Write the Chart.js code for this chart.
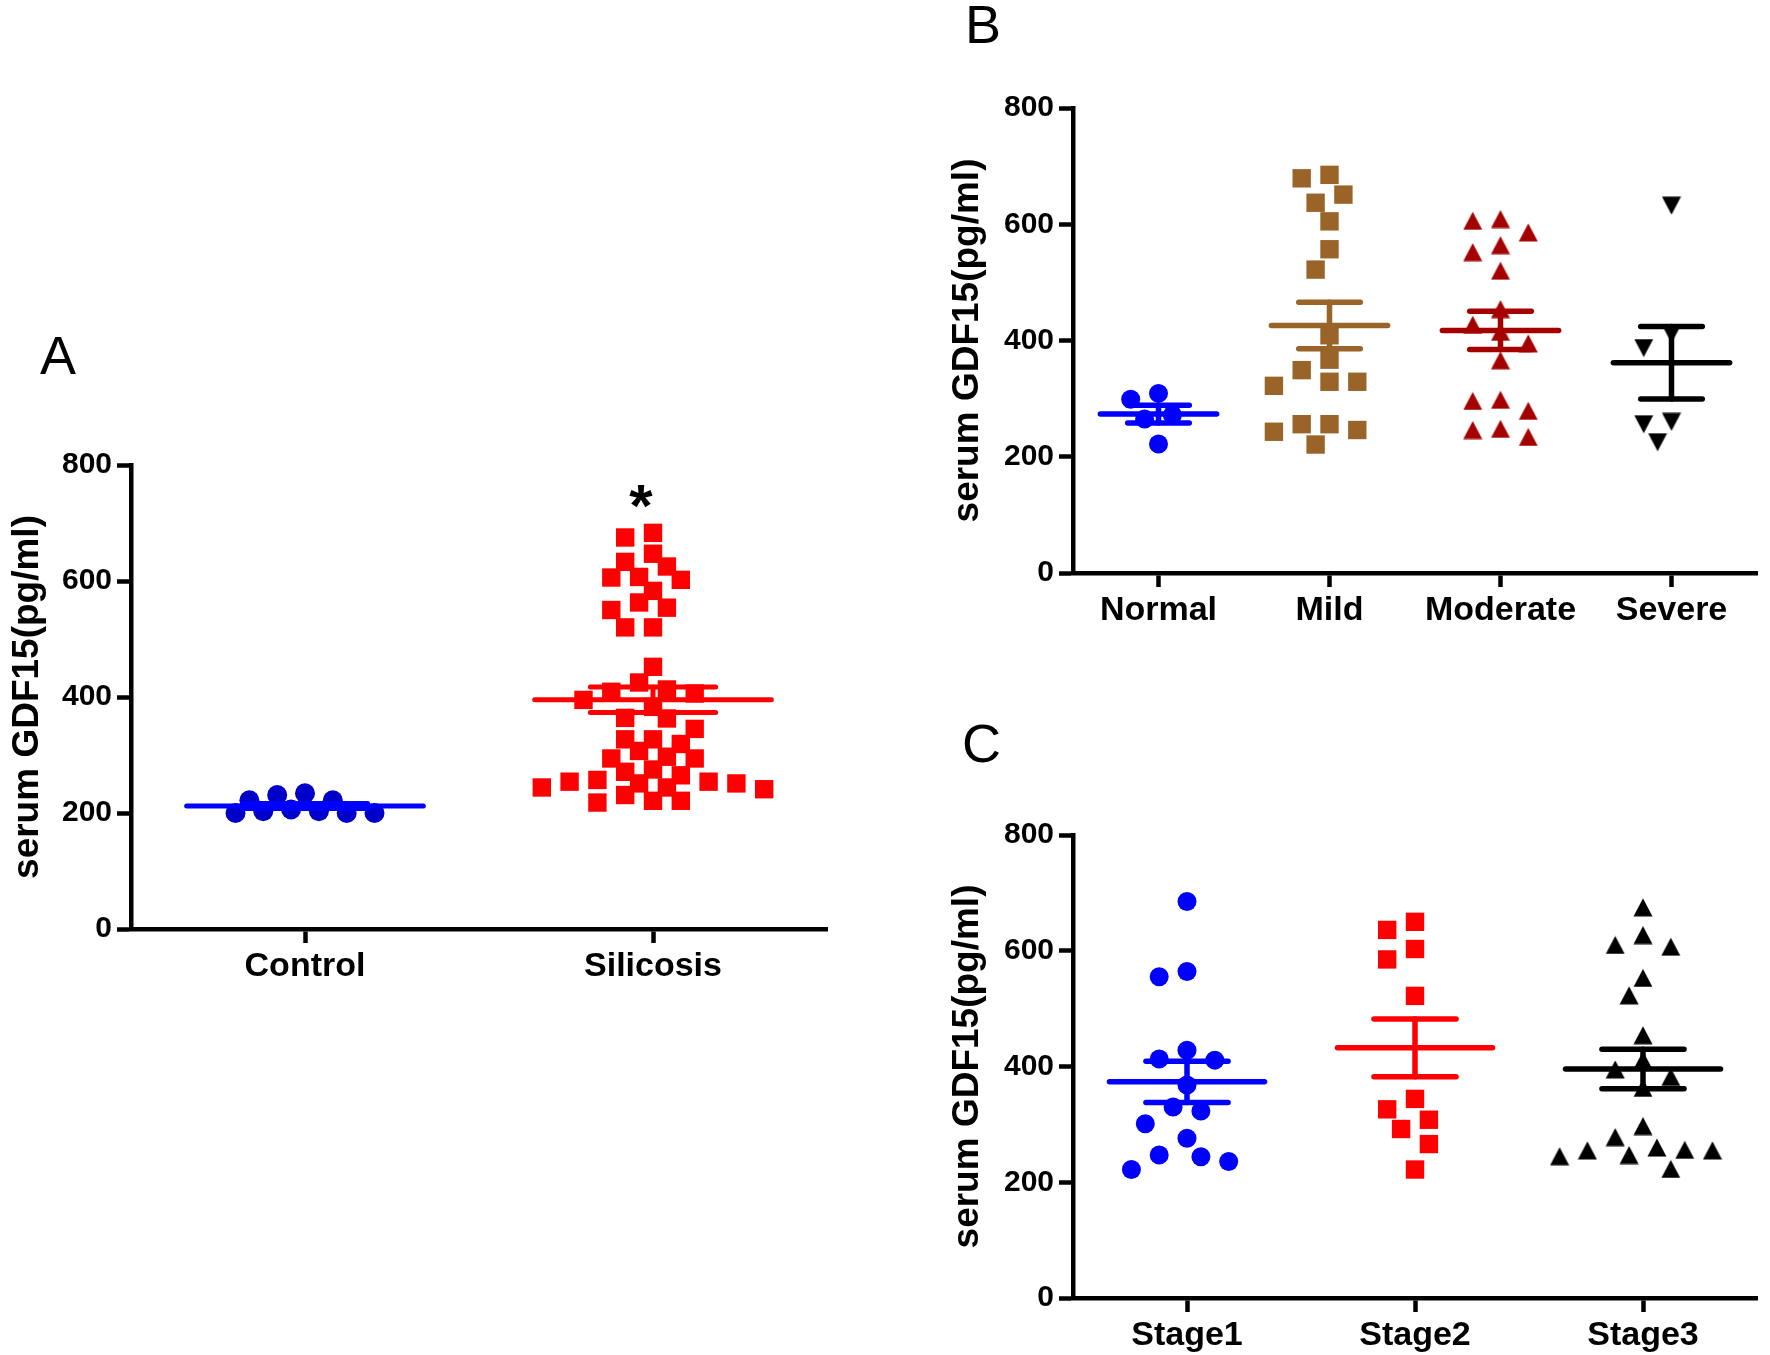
<!DOCTYPE html>
<html>
<head>
<meta charset="utf-8">
<script src="https://cdn.jsdelivr.net/npm/chart.js@4.4.1/dist/chart.umd.min.js"></script>
<style>
  body { margin: 0; background: #fff; width: 1770px; height: 1355px; position: relative; overflow: hidden; }
  canvas { position: absolute; }
  .panel { position: absolute; font-family: "Liberation Sans", Arial, sans-serif; font-size: 54px; line-height: 54px; color: #000; }
</style>
</head>
<body>
<div class="panel" style="left:40px; top:328px;">A</div>
<div class="panel" style="left:965px; top:-3px;">B</div>
<div class="panel" style="left:962px; top:716px;">C</div>
<canvas id="chartA" width="840" height="640" style="left:0px; top:380px;"></canvas>
<canvas id="chartB" width="830" height="660" style="left:940px; top:0px;"></canvas>
<canvas id="chartC" width="830" height="655" style="left:940px; top:700px;"></canvas>
<script>
// Du lieu doc tu hinh (pg/ml)
const Y_TICKS = [0, 200, 400, 600, 800];
const Y_TITLE = "serum GDF15(pg/ml)";

// Panel A
const A_CATS = ["Control", "Silicosis"];
const A_CONTROL = [222, 203, 200, 231, 200, 222, 200, 234, 203, 206];
const A_SILICOSIS = [683, 675, 647, 633, 625, 606, 602, 607, 583, 554, 550, 563, 520, 520, 452,
  425, 409, 413, 395, 383, 406, 364, 363, 345, 327, 327, 319, 307, 294, 294, 297, 265, 275, 271,
  254, 251, 251, 254, 257, 244, 241, 231, 244, 221, 218, 221];

// Panel B
const B_CATS = ["Normal", "Mild", "Moderate", "Severe"];
const B_NORMAL = [299, 309, 272, 265, 222];
const B_MILD = [685, 679, 651, 637, 605, 557, 522, 409, 367, 349, 329, 322, 329, 246, 256, 256, 243, 221];
const B_MODERATE = [606, 609, 586, 564, 552, 520, 454, 427, 415, 395, 366, 298, 296, 279, 248, 234, 246];
const B_SEVERE = [632, 411, 387, 260, 256, 225];

// Panel C
const C_CATS = ["Stage1", "Stage2", "Stage3"];
const C_STAGE1 = [685, 564, 555, 428, 413, 411, 368, 330, 323, 301, 276, 244, 236, 247, 222];
const C_STAGE2 = [650, 636, 603, 585, 522, 344, 326, 308, 292, 266, 222];
const C_STAGE3 = [675, 627, 610, 607, 553, 523, 454, 411, 395, 382, 363, 297, 278, 255, 247, 260, 256, 245, 255, 223];

const FONT = "'Liberation Sans', Arial, sans-serif";

// Tam giac kieu Prism (can giua theo khung)
function triangle(color, down) {
  const c = document.createElement("canvas");
  c.width = 20; c.height = 19;
  const g = c.getContext("2d");
  g.fillStyle = color;
  g.beginPath();
  if (down) { g.moveTo(0.5, 0.5); g.lineTo(19.5, 0.5); g.lineTo(10, 18.5); }
  else { g.moveTo(10, 0.5); g.lineTo(19.5, 18.5); g.lineTo(0.5, 18.5); }
  g.closePath();
  g.fill();
  return c;
}

// Ve duong trung binh + SEM cho tung nhom
const meanSem = {
  id: "meanSem",
  afterDatasetsDraw(chart, args, opts) {
    const ctx = chart.ctx;
    const x = chart.scales.x, y = chart.scales.y;
    chart.data.datasets.forEach((ds, i) => {
      const vals = ds.raw;
      const n = vals.length;
      const m = vals.reduce((a, b) => a + b, 0) / n;
      const sd = Math.sqrt(vals.reduce((a, b) => a + (b - m) * (b - m), 0) / (n - 1));
      const sem = sd / Math.sqrt(n);
      ctx.save();
      ctx.strokeStyle = ds.lineColor;
      ctx.lineWidth = opts.width;
      ctx.lineCap = "round";
      const hline = (v, w) => {
        ctx.beginPath();
        ctx.moveTo(x.getPixelForValue(i - w), y.getPixelForValue(v));
        ctx.lineTo(x.getPixelForValue(i + w), y.getPixelForValue(v));
        ctx.stroke();
      };
      hline(m, 0.34);
      hline(m + sem, 0.18);
      hline(m - sem, 0.18);
      ctx.beginPath();
      ctx.moveTo(x.getPixelForValue(i), y.getPixelForValue(m + sem));
      ctx.lineTo(x.getPixelForValue(i), y.getPixelForValue(m - sem));
      ctx.stroke();
      ctx.restore();
    });
    // dau * (p < 0.05)
    if (opts.star) {
      ctx.save();
      ctx.font = "bold 60px " + FONT;
      ctx.fillStyle = "#000";
      ctx.textAlign = "center";
      ctx.textBaseline = "alphabetic";
      ctx.fillText("*", x.getPixelForValue(opts.star.cat) - 12, y.getPixelForValue(opts.star.at));
      ctx.restore();
    }
  }
};

// Xep diem kieu Prism: tranh chong len nhau
function spread(chart, values, idx, dia, stepPx) {
  const xs = chart.scales.x, ys = chart.scales.y;
  const unitX = xs.getPixelForValue(1) - xs.getPixelForValue(0);
  const order = values.map((v, k) => k).sort((a, b) => values[b] - values[a]);
  const placed = [];
  const out = new Array(values.length);
  order.forEach(k => {
    const py = ys.getPixelForValue(values[k]);
    for (let s = 0; s < 60; s++) {
      const off = (s % 2 ? -1 : 1) * Math.ceil(s / 2) * stepPx;
      const hit = placed.some(p => {
        const dx = p.dx - off, dy = p.py - py;
        return dx * dx + dy * dy < dia * dia;
      });
      if (!hit) {
        placed.push({ dx: off, py: py });
        out[k] = { x: idx + off / unitX, y: values[k] };
        break;
      }
    }
  });
  return out;
}

function makePanel(id, cats, groups, g) {
  const datasets = groups.map((grp, i) => ({
    raw: grp.values,
    data: grp.values.map(v => ({ x: i, y: v })),
    pointStyle: grp.style,
    pointRadius: grp.r,
    backgroundColor: grp.color,
    borderColor: grp.color,
    borderWidth: 0,
    lineColor: grp.line || grp.color,
    gap: grp.dia || g.dia,
  }));
  const chart = new Chart(document.getElementById(id), {
    type: "scatter",
    data: { datasets: datasets },
    plugins: [meanSem],
    options: {
      responsive: false,
      animation: false,
      layout: { padding: g.padding },
      plugins: {
        legend: { display: false },
        tooltip: { enabled: false },
        meanSem: { width: g.lw, star: g.star },
      },
      scales: {
        x: {
          type: "linear",
          min: -0.5,
          max: cats.length - 0.5,
          afterBuildTicks: (s) => { s.ticks = cats.map((c, i) => ({ value: i })); },
          afterFit: (s) => { s.height = g.xH; },
          ticks: {
            autoSkip: false, maxRotation: 0, padding: 3, color: "#000",
            font: { family: FONT, size: 34, weight: "bold" },
            callback: (v) => cats[v],
          },
          grid: { drawOnChartArea: false, drawTicks: true, tickLength: 14, tickWidth: 4.5, tickColor: "#000" },
          border: { display: true, width: 4.5, color: "#000" },
        },
        y: {
          min: 0,
          max: 800,
          afterBuildTicks: (s) => { s.ticks = Y_TICKS.map(v => ({ value: v })); },
          afterFit: (s) => { s.width = g.yW; },
          ticks: {
            padding: 5, color: "#000",
            font: { family: FONT, size: 30, weight: "bold" },
          },
          title: {
            display: true, text: Y_TITLE, color: "#000",
            font: { family: FONT, size: 37, weight: "bold" },
            padding: { top: 6, bottom: 0 },
          },
          grid: { drawOnChartArea: false, drawTicks: true, tickLength: 14, tickWidth: 4.5, tickColor: "#000" },
          border: { display: true, width: 4.5, color: "#000" },
        },
      },
    },
  });
  chart.data.datasets.forEach((ds, i) => {
    ds.data = spread(chart, ds.raw, i, ds.gap, 13.9);
  });
  chart.update();
  return chart;
}

makePanel("chartA", A_CATS, [
  { values: A_CONTROL, style: "circle", r: 10, color: "#0000c8", line: "#0000ff", dia: 16.5 },
  { values: A_SILICOSIS, style: "rect", r: 13, color: "#ff0000", dia: 18 },
], { padding: { left: 0, top: 85, right: 13, bottom: 11 }, yW: 131, xH: 80, lw: 5, dia: 18, star: { cat: 1, at: 695 } });

makePanel("chartB", B_CATS, [
  { values: B_NORMAL, style: "circle", r: 9.5, color: "#0000ff" },
  { values: B_MILD, style: "rect", r: 13, color: "#9a6428" },
  { values: B_MODERATE, style: triangle("#a50000", false), r: 10, color: "#a50000" },
  { values: B_SEVERE, style: triangle("#000000", true), r: 10, color: "#000000" },
], { padding: { left: 0, top: 108, right: 1, bottom: 7 }, yW: 133, xH: 80, lw: 5.5, dia: 22 });

makePanel("chartC", C_CATS, [
  { values: C_STAGE1, style: "circle", r: 9.5, color: "#0000ff" },
  { values: C_STAGE2, style: "rect", r: 13, color: "#ff0000" },
  { values: C_STAGE3, style: triangle("#000000", false), r: 10, color: "#000000" },
], { padding: { left: 0, top: 135, right: 5, bottom: 0 }, yW: 133, xH: 57, lw: 5.5, dia: 22 });
</script>
</body>
</html>
